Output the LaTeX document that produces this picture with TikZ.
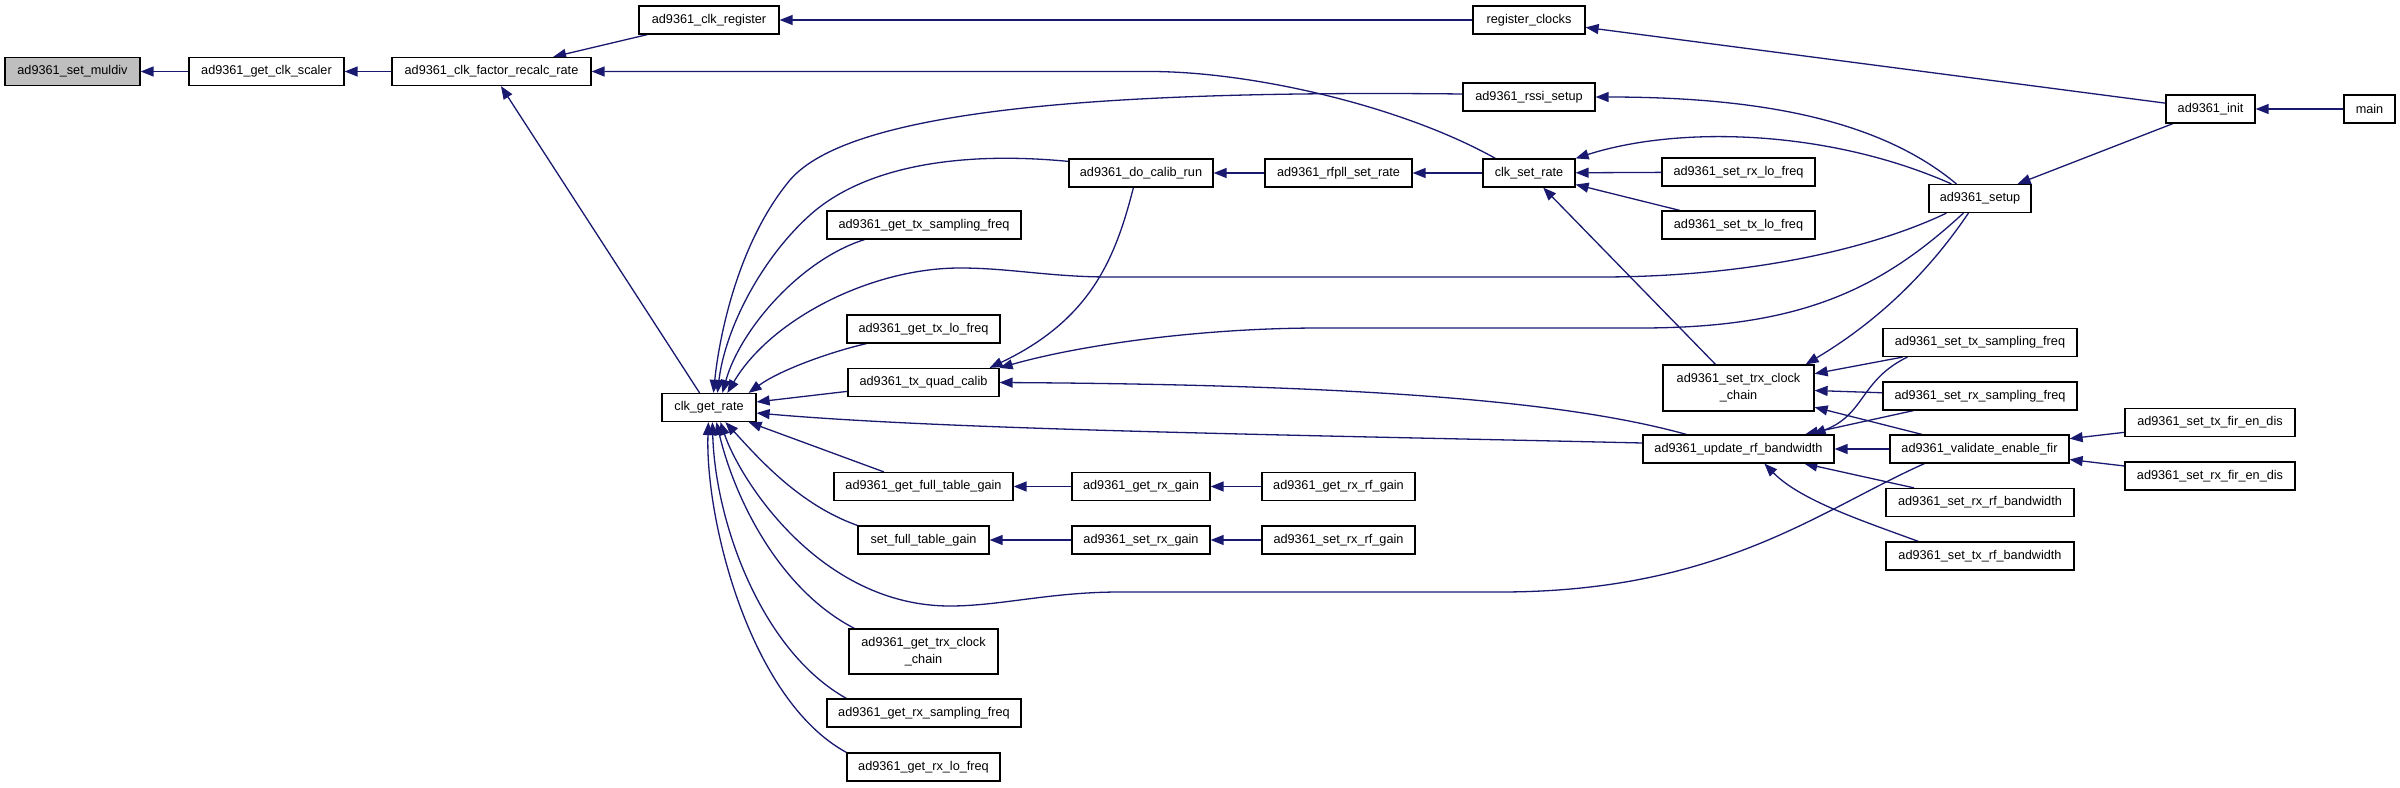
\documentclass[tikz,border=0pt]{standalone}
\usepackage{fontspec}
\setmainfont{Liberation Sans}
\usetikzlibrary{arrows.meta}
\definecolor{edgec}{RGB}{25,25,112}
\definecolor{focusc}{RGB}{191,191,191}
\pgfdeclarelayer{bg}
\pgfsetlayers{bg,main}
\begin{document}
\begin{tikzpicture}[x=1pt,y=-1pt,
  fbox/.style={draw=black, line width=1.2pt, fill=white, inner sep=0pt,
    minimum height=28pt, font=\fontsize{12.7}{17}\selectfont, text=black},
  calledge/.style={draw=edgec, line width=1.3pt, -{Triangle[length=13pt,width=10pt]}}]
\useasboundingbox (0,0) rectangle (2400,787);
% nodes
\node[fbox, minimum width=135pt, fill=focusc] (muldiv) at (72.5,71.5) {ad9361\_set\_muldiv};
\node[fbox, minimum width=155pt] (clkscaler) at (266.5,71.5) {ad9361\_get\_clk\_scaler};
\node[fbox, minimum width=199pt] (recalc) at (491.5,71.5) {ad9361\_clk\_factor\_recalc\_rate};
\node[fbox, minimum width=140pt] (clkreg) at (709,20) {ad9361\_clk\_register};
\node[fbox, minimum width=112pt] (regclocks) at (1529,20) {register\_clocks};
\node[fbox, minimum width=132pt] (rssi) at (1529,97) {ad9361\_rssi\_setup};
\node[fbox, minimum width=144pt] (docalib) at (1141,173) {ad9361\_do\_calib\_run};
\node[fbox, minimum width=147pt] (rfpll) at (1338.5,173) {ad9361\_rfpll\_set\_rate};
\node[fbox, minimum width=92pt] (clksetrate) at (1529,173) {clk\_set\_rate};
\node[fbox, minimum width=194pt] (gettxsamp) at (924,225) {ad9361\_get\_tx\_sampling\_freq};
\node[fbox, minimum width=89pt] (init) at (2210.5,109) {ad9361\_init};
\node[fbox, minimum width=51pt] (main) at (2369.5,109) {main};
\node[fbox, minimum width=102pt] (setup) at (1980,198.5) {ad9361\_setup};
\node[fbox, minimum width=153pt] (setrxlo) at (1738.5,172) {ad9361\_set\_rx\_lo\_freq};
\node[fbox, minimum width=153pt] (settxlo) at (1738.5,225) {ad9361\_set\_tx\_lo\_freq};
\node[fbox, minimum width=153pt] (gettxlo) at (923.5,329) {ad9361\_get\_tx\_lo\_freq};
\node[fbox, minimum width=151pt] (txquad) at (923.5,382.5) {ad9361\_tx\_quad\_calib};
\node[fbox, minimum width=94pt] (clkgetrate) at (709,407.5) {clk\_get\_rate};
\node[fbox, minimum width=179pt] (getfull) at (923.5,486.5) {ad9361\_get\_full\_table\_gain};
\node[fbox, minimum width=138pt] (getrxgain) at (1141,486.5) {ad9361\_get\_rx\_gain};
\node[fbox, minimum width=153pt] (getrxrf) at (1338.5,486.5) {ad9361\_get\_rx\_rf\_gain};
\node[fbox, minimum width=131pt] (setfull) at (923.5,540) {set\_full\_table\_gain};
\node[fbox, minimum width=138pt] (setrxgain) at (1141,540) {ad9361\_set\_rx\_gain};
\node[fbox, minimum width=153pt] (setrxrf) at (1338.5,540) {ad9361\_set\_rx\_rf\_gain};
\node[fbox, minimum width=149pt, minimum height=45pt, align=center] (gettrx) at (923.5,651.5) {ad9361\_get\_trx\_clock\\\_chain};
\node[fbox, minimum width=194pt] (getrxsamp) at (924,713) {ad9361\_get\_rx\_sampling\_freq};
\node[fbox, minimum width=153pt] (getrxlo) at (923.5,767) {ad9361\_get\_rx\_lo\_freq};
\node[fbox, minimum width=151pt, minimum height=46pt, align=center] (settrx) at (1738.5,388) {ad9361\_set\_trx\_clock\\\_chain};
\node[fbox, minimum width=194pt] (settxsamp) at (1980,342.5) {ad9361\_set\_tx\_sampling\_freq};
\node[fbox, minimum width=194pt] (setrxsamp) at (1980,396) {ad9361\_set\_rx\_sampling\_freq};
\node[fbox, minimum width=191pt] (update) at (1738.5,449) {ad9361\_update\_rf\_bandwidth};
\node[fbox, minimum width=179pt] (validate) at (1979.5,449) {ad9361\_validate\_enable\_fir};
\node[fbox, minimum width=170pt] (settxfir) at (2210,422.5) {ad9361\_set\_tx\_fir\_en\_dis};
\node[fbox, minimum width=170pt] (setrxfir) at (2210,476) {ad9361\_set\_rx\_fir\_en\_dis};
\node[fbox, minimum width=188pt] (setrxbw) at (1980,502.5) {ad9361\_set\_rx\_rf\_bandwidth};
\node[fbox, minimum width=188pt] (settxbw) at (1980,556) {ad9361\_set\_tx\_rf\_bandwidth};
\begin{pgfonlayer}{bg}
\fill[white] (0,0) rectangle (2400,787);
% straight edges
\draw[calledge] (clkscaler) -- (muldiv);
\draw[calledge] (recalc) -- (clkscaler);
\draw[calledge] (clkreg) -- (recalc);
\draw[calledge] (clkgetrate) -- (recalc);
\draw[calledge] (regclocks) -- (clkreg);
\draw[calledge] (init) -- (regclocks);
\draw[calledge] (main) -- (init);
\draw[calledge] (init) -- (setup);
\draw[calledge] (setrxlo) -- (clksetrate);
\draw[calledge] (settxlo) -- (clksetrate);
\draw[calledge] (settrx) -- (clksetrate);
\draw[calledge] (clksetrate) -- (rfpll);
\draw[calledge] (rfpll) -- (docalib);
\draw[calledge] (txquad) -- (clkgetrate);
\draw[calledge] (getfull) -- (clkgetrate);
\draw[calledge] (settxsamp) -- (settrx);
\draw[calledge] (setrxsamp) -- (settrx);
\draw[calledge] (validate) -- (settrx);
\draw[calledge] (setrxsamp) -- (update);
\draw[calledge] (validate) -- (update);
\draw[calledge] (setrxbw) -- (update);
\draw[calledge] (settxfir) -- (validate);
\draw[calledge] (setrxfir) -- (validate);
\draw[calledge] (getrxgain) -- (getfull);
\draw[calledge] (getrxrf) -- (getrxgain);
\draw[calledge] (setrxgain) -- (setfull);
\draw[calledge] (setrxrf) -- (setrxgain);
% curved edges
\draw[calledge] ([xshift=13pt]clksetrate.north west) .. controls (1400,105) and (1250,71.5) .. (1150,71.5) -- (recalc.east);
\draw[calledge] ([xshift=28pt]setup.north west) .. controls (1880,120) and (1760,97) .. (rssi.east);
\draw[calledge] ([xshift=23pt]setup.north west) .. controls (1830,130) and (1680,125) .. (clksetrate.north east);
\draw[calledge] ([yshift=-3pt]docalib.north west) .. controls (950,150) and (860,170) .. (810,215) .. controls (760,260) and (725,330) .. ([xshift=56pt]clkgetrate.north west);
\draw[calledge] ([yshift=3pt]rssi.west) .. controls (1100,90) and (850,110) .. (790,180) .. controls (740,240) and (720,330) .. ([xshift=52pt]clkgetrate.north west);
\draw[calledge] ([xshift=38pt]gettxsamp.south west) .. controls (800,260) and (740,330) .. ([xshift=61pt]clkgetrate.north west);
\draw[calledge] ([xshift=18pt]setup.south west) .. controls (1880,245) and (1760,277) .. (1600,277) -- (1110,277) .. controls (1050,277) and (1010,268) .. (960,268) .. controls (870,268) and (770,320) .. ([xshift=66pt]clkgetrate.north west);
\draw[calledge] ([xshift=20pt]gettxlo.south west) .. controls (830,352) and (780,370) .. ([xshift=-8pt]clkgetrate.north east);
\draw[calledge] ([yshift=6pt]update.west) .. controls (1300,435) and (950,430) .. ([yshift=-5.5pt]clkgetrate.east);
\draw[calledge] (setfull.north west) .. controls (800,505) and (760,460) .. ([xshift=64pt]clkgetrate.south west);
\draw[calledge] ([xshift=35pt]validate.south west) .. controls (1820,510) and (1720,592) .. (1500,592) -- (1120,592) .. controls (1050,592) and (1000,606) .. (950,606) .. controls (820,606) and (740,480) .. ([xshift=59pt]clkgetrate.south west);
\draw[calledge] ([xshift=6pt]gettrx.north west) .. controls (780,590) and (735,500) .. ([xshift=55pt]clkgetrate.south west);
\draw[calledge] ([xshift=20pt]getrxsamp.north west) .. controls (760,650) and (715,520) .. ([xshift=51pt]clkgetrate.south west);
\draw[calledge] (getrxlo.north west) .. controls (750,700) and (705,520) .. ([xshift=47pt]clkgetrate.south west);
\draw[calledge] ([xshift=65pt]docalib.south west) .. controls (1115,260) and (1090,320) .. ([xshift=-10pt]txquad.north east);
\draw[calledge] ([xshift=35pt]setup.south west) .. controls (1880,290) and (1800,328) .. (1640,328) -- (1320,328) .. controls (1200,328) and (1080,345) .. (txquad.north east);
\draw[calledge] ([xshift=44pt]update.north west) .. controls (1580,405) and (1400,385) .. (txquad.east);
\draw[calledge] ([xshift=40pt]setup.south west) .. controls (1930,270) and (1880,320) .. ([xshift=-9pt]settrx.north east);
\draw[calledge] ([xshift=25pt]settxsamp.south west) .. controls (1860,380) and (1865,415) .. ([xshift=-22pt]update.north east);
\draw[calledge] ([xshift=33pt]settxbw.north west) .. controls (1860,520) and (1800,500) .. ([xshift=122pt]update.south west);
\end{pgfonlayer}
\end{tikzpicture}
\end{document}
